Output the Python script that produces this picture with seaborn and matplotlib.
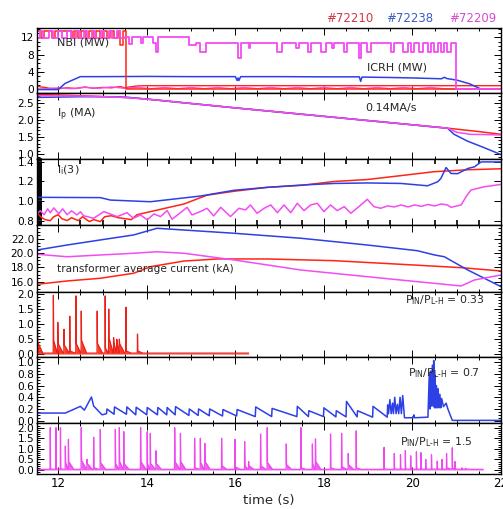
import numpy as np
import matplotlib
matplotlib.use("Agg")
import matplotlib.pyplot as plt
from matplotlib.ticker import MultipleLocator, FormatStrFormatter
import seaborn as sns

sns.set_theme(style="ticks")
plt.rcParams["font.family"] = ["DejaVu Sans"]

RED = "#ff2414"
BLUE = "#2c40e6"
MAG = "#f24cf2"

shots = ["#72210", "#72238", "#72209"]
shot_colors = ["#d23845", "#3a5ac8", "#d64ccc"]

# ---------------- panel 1: NBI / ICRH (MW) ----------------
nbi_red_t = [11.52, 11.60, 11.68, 11.86, 11.92, 12.10, 12.30, 12.36, 12.44, 12.52, 12.62, 12.70,
             12.78, 12.86, 12.94, 13.02, 13.10, 13.18, 13.26, 13.34, 13.40, 13.46, 13.52, 22.0]
nbi_red_v = [13.6, 11.9, 13.6, 11.9, 13.6, 13.6, 11.9, 13.6, 11.9, 13.6, 11.9, 13.6,
             11.9, 13.6, 11.9, 13.6, 11.9, 13.6, 11.9, 13.6, 10.2, 13.6, 0.0, 0.0]

nbi_mag_t = [11.52, 11.58, 11.66, 11.80, 11.88, 12.00, 12.08, 12.20, 12.28, 12.40, 12.48, 12.58,
             12.66, 12.76, 12.84, 12.96, 13.04, 13.14, 13.22, 13.32, 13.40, 13.50, 13.60, 13.66,
             13.86, 13.92, 14.14, 14.20, 14.25, 14.95, 15.10, 15.21, 15.33, 16.06, 16.12, 16.30,
             16.34, 16.95, 17.06, 17.36, 17.44, 17.63, 17.70, 17.93, 18.04, 18.19, 18.23, 18.46,
             18.53, 18.80, 18.84, 18.98, 19.06, 19.51, 19.59, 19.78, 19.89, 19.96, 20.04, 20.15,
             20.23, 20.34, 20.42, 20.49, 20.57, 20.64, 20.72, 20.79, 20.87, 20.98, 22.0]
nbi_mag_v = [11.9, 13.6, 11.9, 13.6, 11.9, 13.6, 11.9, 13.6, 11.9, 13.6, 11.9, 13.6,
             11.9, 13.6, 11.9, 13.6, 11.9, 13.6, 11.9, 13.6, 11.9, 12.2, 10.4, 12.2,
             10.6, 12.2, 10.6, 8.7, 12.2, 10.2, 10.6, 8.7, 10.6, 7.3, 10.6, 9.5,
             10.6, 8.7, 10.6, 9.5, 10.6, 8.7, 10.6, 8.7, 10.6, 9.5, 10.6, 8.7,
             10.6, 7.3, 10.6, 8.7, 10.6, 8.7, 10.6, 8.7, 10.6, 8.7, 10.6, 8.7,
             10.6, 8.7, 10.6, 8.7, 10.6, 8.7, 10.6, 8.7, 10.6, 0.0, 0.0]

icrh_blue_t = [11.52, 12.0, 12.15, 12.3, 12.5, 13.0, 14.0, 15.0, 16.0, 16.04, 16.06, 16.08, 16.12,
               17.0, 18.0, 18.8, 18.83, 18.86, 19.5, 20.0, 20.5, 20.65, 20.72, 20.78, 21.0, 21.3,
               21.55, 22.0]
icrh_blue_v = [-0.1, -0.1, 1.3, 2.0, 2.9, 2.9, 2.95, 2.9, 2.9, 2.0, 2.6, 2.0, 2.9,
               2.9, 2.85, 2.85, 1.8, 2.8, 2.7, 2.6, 2.45, 2.4, 2.75, 2.45, 2.1, 1.2,
               0.0, 0.0]

icrh_red_t = [11.52, 11.6, 11.7, 11.8, 12.0, 12.2, 12.4, 12.6, 12.8, 13.0, 13.2, 13.4, 13.5,
              13.6, 13.8, 14.0, 22.0]
icrh_red_v = [0.8, 0.5, 0.4, 0.2, 0.1, 0.3, 0.15, 0.5, 0.2, 0.4, 0.3, 0.6, 0.3,
              0.5, 0.75, 0.8, 0.8]

icrh_mag_t = [11.52, 11.8, 12.0, 12.3, 12.6, 12.9, 13.2, 13.5, 13.8, 14.1, 14.4, 14.7, 15.0,
              15.3, 15.6, 15.9, 16.2, 16.5, 16.8, 17.1, 17.4, 17.7, 18.0, 18.3, 18.6, 18.9,
              19.2, 19.5, 19.8, 20.1, 20.4, 20.7, 20.9, 22.0]
icrh_mag_v = [0.0, 0.1, 0.3, 0.1, 0.4, 0.2, 0.5, 0.2, 0.4, 0.1, 0.4, 0.1, 0.4,
              0.1, 0.4, 0.1, 0.4, 0.1, 0.4, 0.1, 0.4, 0.1, 0.4, 0.1, 0.4, 0.1,
              0.4, 0.1, 0.4, 0.1, 0.4, 0.1, 0.0, 0.0]

# ---------------- panel 2: Ip (MA) ----------------
ip_red_t = [11.52, 12.5, 13.3, 13.6, 14.0, 16.0, 18.0, 20.0, 20.8, 21.5, 22.0]
ip_red_v = [2.76, 2.72, 2.68, 2.66, 2.62, 2.36, 2.11, 1.86, 1.76, 1.66, 1.58]
ip_blue_t = [11.52, 12.5, 13.3, 13.6, 14.0, 16.0, 18.0, 20.0, 20.79, 20.94, 21.24, 21.61, 22.0]
ip_blue_v = [2.67, 2.69, 2.69, 2.67, 2.62, 2.36, 2.11, 1.86, 1.76, 1.58, 1.38, 1.19, 0.98]
ip_mag_t = [11.52, 12.5, 13.3, 13.6, 14.0, 16.0, 18.0, 20.0, 20.8, 21.0, 21.3, 22.0]
ip_mag_v = [2.72, 2.71, 2.68, 2.66, 2.62, 2.36, 2.11, 1.86, 1.76, 1.64, 1.58, 1.56]

# ---------------- panel 3: li(3) ----------------
li_red_t = [11.52, 11.6, 11.7, 11.82, 11.9, 12.0, 12.08, 12.2, 12.3, 12.45, 12.55, 12.7, 12.8,
            12.95, 13.05, 13.2, 13.35, 13.5, 13.65, 13.78, 14.16, 14.84, 15.36, 15.97, 16.72,
            17.48, 18.23, 18.98, 19.74, 20.49, 21.25, 22.0]
li_red_v = [0.88, 0.84, 0.81, 0.80, 0.84, 0.86, 0.82, 0.80, 0.83, 0.80, 0.84, 0.79, 0.81,
            0.79, 0.84, 0.85, 0.83, 0.82, 0.81, 0.86, 0.90, 0.97, 1.06, 1.10, 1.14,
            1.16, 1.20, 1.22, 1.26, 1.30, 1.32, 1.33]
li_blue_t = [11.52, 12.95, 13.18, 14.08, 15.21, 15.97, 16.72, 17.48, 18.23, 18.98, 19.74,
             20.34, 20.57, 20.64, 20.76, 20.87, 21.02, 21.25, 21.4, 21.55, 22.0]
li_blue_v = [1.038, 1.035, 1.01, 0.993, 1.051, 1.11, 1.14, 1.163, 1.18, 1.185, 1.18,
             1.156, 1.197, 1.23, 1.343, 1.282, 1.28, 1.333, 1.35, 1.40, 1.40]
li_mag_t = [11.52, 11.6, 11.68, 11.76, 11.82, 11.9, 12.01, 12.1, 12.2, 12.3, 12.42, 12.5, 12.57,
            12.8, 13.03, 13.33, 13.55, 13.7, 13.86, 14.01, 14.16, 14.31, 14.46, 14.57, 14.76,
            14.91, 15.02, 15.21, 15.36, 15.51, 15.67, 15.89, 16.08, 16.23, 16.34, 16.49, 16.65,
            16.8, 16.95, 17.1, 17.25, 17.4, 17.55, 17.7, 17.85, 18.0, 18.15, 18.3, 18.46, 18.61,
            18.79, 18.98, 19.13, 19.28, 19.44, 19.59, 19.74, 19.9, 20.05, 20.2, 20.35, 20.5,
            20.65, 20.79, 20.87, 21.1, 21.21, 21.32, 21.62, 22.0]
li_mag_v = [0.875, 0.90, 0.86, 0.92, 0.88, 0.93, 0.87, 0.92, 0.86, 0.90, 0.858, 0.89, 0.85,
            0.824, 0.892, 0.841, 0.881, 0.824, 0.858, 0.807, 0.868, 0.841, 0.902, 0.814, 0.881,
            0.936, 0.858, 0.892, 0.926, 0.848, 0.936, 0.841, 0.926, 0.909, 0.96, 0.875, 0.926,
            0.96, 0.881, 0.96, 0.881, 0.977, 0.902, 0.96, 0.977, 0.892, 0.96, 0.902, 0.943, 0.875,
            0.943, 1.018, 0.943, 0.926, 0.95, 0.94, 0.96, 0.94, 0.96, 0.945, 0.965, 0.95,
            0.97, 0.96, 0.936, 0.96, 1.044, 1.112, 1.146, 1.17]

# ---------------- panel 4: transformer average current (kA) ----------------
tr_blue_t = [11.52, 12.2, 12.95, 13.7, 14.23, 15.97, 17.48, 18.98, 20.11, 20.5, 20.72, 21.25, 22.0]
tr_blue_v = [20.45, 21.15, 21.86, 22.56, 23.5, 22.8, 22.1, 21.15, 20.35, 19.75, 19.5, 17.64, 15.3]
tr_mag_t = [11.52, 12.2, 12.95, 13.7, 14.23, 14.84, 15.97, 17.48, 18.98, 20.11, 21.1, 21.4, 22.0]
tr_mag_v = [19.85, 19.5, 19.75, 19.99, 20.2, 19.99, 19.05, 17.64, 16.7, 16.0, 15.4, 16.24, 16.94]
tr_red_t = [11.52, 12.2, 12.95, 13.7, 14.08, 14.84, 15.6, 16.72, 18.23, 19.74, 21.1, 22.0]
tr_red_v = [15.63, 16.1, 16.48, 17.18, 18.1, 18.9, 19.19, 19.19, 18.95, 18.44, 17.97, 17.5]

# ---------------- panel 5: red ELM signal (P_IN/P_L-H = 0.33) ----------------
elm_red_time = [11.53, 11.89, 11.99, 12.13, 12.26, 12.40, 12.52, 12.88, 13.06, 13.14, 13.25,
                13.32, 13.38, 13.53, 13.79]
elm_red_peak = [0.80, 1.97, 1.06, 0.83, 1.27, 1.95, 1.44, 1.44, 1.95, 1.51, 0.55,
                0.50, 0.50, 1.57, 0.67]
elm_red_shoulder = [0.40, 0.45, 0.35, 0.30, 0.10, 0.35, 0.45, 0.35, 0.20, 0.55, 0.40,
                    0.45, 0.35, 0.10, 0.10]
elm_red_span = (11.52, 16.3)
elm_red_base = 0.03

# ---------------- panel 6: blue ELM signal (P_IN/P_L-H = 0.7) ----------------
elm_blue_t = [11.52, 12.16, 12.50, 12.59, 12.75, 12.80, 12.99,
              13.09, 13.10, 13.26, 13.27, 13.54, 13.55, 13.75, 13.76, 14.00, 14.01,
              14.24, 14.25, 14.45, 14.46, 14.64, 14.65, 14.95, 14.96, 15.16, 15.17,
              15.41, 15.42, 15.71, 15.72, 16.03, 16.04, 16.45, 16.46, 16.82, 16.83,
              17.39, 17.40, 17.65, 17.66, 17.99, 18.00, 18.27, 18.28, 18.50, 18.51,
              18.75, 18.76, 19.10, 19.11, 19.43, 19.44, 19.46, 19.49, 19.52, 19.55,
              19.57, 19.60, 19.63, 19.66, 19.69, 19.72, 19.75, 19.78, 19.82, 20.02,
              20.03, 20.05, 20.35, 20.38, 20.40, 20.41, 20.43, 20.45, 20.47, 20.48,
              20.50, 20.51, 20.53, 20.54, 20.56, 20.58, 20.60, 20.62, 20.64, 20.66,
              20.70, 20.76, 20.80, 20.90, 22.0]
elm_blue_v = [0.13, 0.13, 0.245, 0.18, 0.405, 0.25, 0.10,
              0.12, 0.20, 0.11, 0.235, 0.11, 0.235, 0.10, 0.23, 0.10, 0.225,
              0.10, 0.225, 0.10, 0.225, 0.10, 0.24, 0.09, 0.20, 0.09, 0.20,
              0.085, 0.20, 0.08, 0.19, 0.08, 0.19, 0.07, 0.235, 0.07, 0.21,
              0.07, 0.245, 0.07, 0.17, 0.07, 0.22, 0.065, 0.17, 0.065, 0.33,
              0.065, 0.17, 0.06, 0.245, 0.06, 0.27, 0.12, 0.36, 0.12, 0.30,
              0.12, 0.40, 0.12, 0.28, 0.12, 0.40, 0.12, 0.43, 0.05, 0.05,
              0.10, 0.05, 0.06, 0.80, 0.20, 0.85, 0.25, 0.95, 0.25, 1.03,
              0.22, 0.78, 0.22, 0.60, 0.22, 0.55, 0.22, 0.45, 0.22, 0.38,
              0.24, 0.30, 0.20, 0.005, 0.005]

# ---------------- panel 7: magenta ELM signal (P_IN/P_L-H = 1.5) ----------------
elm_mag_time = [11.82, 11.95, 12.05, 12.16, 12.23, 12.52, 12.65, 12.80, 12.95, 13.29, 13.38,
                13.48, 13.86, 14.01, 14.08, 14.21, 14.63, 14.76, 15.08, 15.21, 15.31, 15.69,
                15.99, 16.21, 16.30, 16.57, 16.72, 17.15, 17.48, 17.74, 17.81, 18.15, 18.40,
                18.55, 18.73, 19.36, 19.59, 19.73, 19.84, 19.96, 20.09, 20.19, 20.30, 20.43,
                20.56, 20.67, 20.77, 20.90, 20.96, 21.12, 21.20]
elm_mag_peak = [2.0, 2.0, 2.0, 1.13, 1.45, 2.0, 0.50, 1.55, 1.92, 1.92, 2.0,
                1.81, 2.0, 1.81, 1.73, 0.91, 2.0, 1.73, 1.50, 1.50, 1.26, 1.50,
                1.45, 1.34, 0.40, 1.70, 2.0, 1.23, 2.0, 1.23, 1.47, 1.70, 1.73,
                0.78, 1.85, 1.07, 0.78, 0.72, 0.92, 0.67, 0.86, 0.82, 0.50, 0.72,
                0.42, 0.50, 0.78, 1.05, 0.40, 0.10, 0.08]
elm_mag_shoulder = [0.05, 0.05, 0.05, 0.35, 0.40, 0.45, 0.30, 0.10, 0.35, 0.30, 0.40,
                    0.30, 0.40, 0.30, 0.30, 0.30, 0.40, 0.40, 0.10, 0.35, 0.40, 0.20,
                    0.15, 0.20, 0.20, 0.20, 0.35, 0.25, 0.10, 0.30, 0.40, 0.10, 0.15,
                    0.25, 0.10, 0.05, 0.05, 0.05, 0.05, 0.05, 0.05, 0.05, 0.05, 0.05,
                    0.05, 0.05, 0.10, 0.10, 0.05, 0.05, 0.05]
elm_mag_span = (11.52, 21.6)
elm_mag_base = 0.03

ratio_labels = ["0.33", "0.7", "1.5"]
x_ticks = [12, 14, 16, 18, 20, 22]


def spike_trace(times, peaks, shoulders, base, span, dur=0.12):
    ts = [span[0]]
    vs = [base]
    n = len(times)
    for i in range(n):
        t = times[i]
        nxt = times[i + 1] if i + 1 < n else span[1]
        d = min(dur, max(nxt - t - 0.012, 0.015))
        ts += [t - 0.004, t, t + 0.006, t + d]
        vs += [base, peaks[i], shoulders[i], base]
    ts.append(span[1])
    vs.append(base)
    return np.array(ts), np.array(vs)


# ---------------- figure ----------------
W, H = 503, 509
fig = plt.figure(figsize=(W / 100, H / 100), dpi=100)
fig.patch.set_facecolor("white")
tops = [28, 93, 159, 225, 292, 357, 423]
bots = [93, 159, 225, 292, 357, 423, 474]
left_px, right_px = 37, 501
axes = []
for tp, bt in zip(tops, bots):
    ax = fig.add_axes([left_px / W, 1 - bt / H, (right_px - left_px) / W, (bt - tp) / H])
    axes.append(ax)

def line(ax, t, v, color, lw=1.1, **kw):
    sns.lineplot(x=np.asarray(t), y=np.asarray(v), ax=ax, color=color, lw=lw,
                 estimator=None, sort=False, legend=False, **kw)

ax1, ax2, ax3, ax4, ax5, ax6, ax7 = axes

# panel 1
line(ax1, icrh_red_t, icrh_red_v, RED, lw=1.0)
line(ax1, icrh_mag_t, icrh_mag_v, MAG, lw=1.0)
line(ax1, icrh_blue_t, icrh_blue_v, BLUE, lw=1.1)
line(ax1, nbi_red_t, nbi_red_v, RED, lw=1.1, drawstyle="steps-post")
line(ax1, nbi_mag_t, nbi_mag_v, MAG, lw=1.3, drawstyle="steps-post")
ax1.set_ylim(-0.9, 14.2)
ax1.yaxis.set_major_locator(MultipleLocator(4))
ax1.yaxis.set_minor_locator(MultipleLocator(1))
ax1.yaxis.set_major_formatter(FormatStrFormatter("%d"))
ax1.text(0.043, 0.77, "NBI (MW)", transform=ax1.transAxes, va="center", fontsize=8)
ax1.text(0.711, 0.385, "ICRH (MW)", transform=ax1.transAxes, va="center", fontsize=8)

# panel 2
line(ax2, ip_red_t, ip_red_v, RED, lw=1.1)
line(ax2, ip_blue_t, ip_blue_v, BLUE, lw=1.1)
line(ax2, ip_mag_t, ip_mag_v, MAG, lw=1.1)
ax2.set_ylim(0.85, 2.8)
ax2.yaxis.set_major_locator(MultipleLocator(0.5))
ax2.yaxis.set_minor_locator(MultipleLocator(0.1))
ax2.yaxis.set_major_formatter(FormatStrFormatter("%.1f"))
ax2.text(0.043, 0.667, r"I$_\mathregular{p}$ (MA)", transform=ax2.transAxes, va="center", fontsize=8)
ax2.text(0.707, 0.773, "0.14MA/s", transform=ax2.transAxes, va="center", fontsize=8)

# panel 3
line(ax3, li_red_t, li_red_v, RED, lw=1.1)
line(ax3, li_blue_t, li_blue_v, BLUE, lw=1.1)
line(ax3, li_mag_t, li_mag_v, MAG, lw=1.1)
ax3.set_ylim(0.755, 1.43)
ax3.yaxis.set_major_locator(MultipleLocator(0.2))
ax3.yaxis.set_minor_locator(MultipleLocator(0.01))
ax3.yaxis.set_major_formatter(FormatStrFormatter("%.1f"))
ax3.text(0.043, 0.833, r"l$_\mathregular{i}$(3)", transform=ax3.transAxes, va="center", fontsize=8)

# panel 4
line(ax4, tr_red_t, tr_red_v, RED, lw=1.1)
line(ax4, tr_blue_t, tr_blue_v, BLUE, lw=1.1)
line(ax4, tr_mag_t, tr_mag_v, MAG, lw=1.1)
ax4.set_ylim(14.55, 23.96)
ax4.yaxis.set_major_locator(MultipleLocator(2))
ax4.yaxis.set_minor_locator(MultipleLocator(0.5))
ax4.yaxis.set_major_formatter(FormatStrFormatter("%.1f"))
ax4.text(0.043, 0.343, "transformer average current (kA)", transform=ax4.transAxes,
         va="center", fontsize=7.6)

# panel 5
rt, rv = spike_trace(elm_red_time, elm_red_peak, elm_red_shoulder, elm_red_base, elm_red_span)
ax5.fill_between(rt, 0, rv, color=RED, lw=0, alpha=0.9)
line(ax5, rt, rv, "#e8231a", lw=0.9)
ax5.set_ylim(-0.1, 2.08)
ax5.yaxis.set_major_locator(MultipleLocator(0.5))
ax5.yaxis.set_minor_locator(MultipleLocator(0.1))
ax5.yaxis.set_major_formatter(FormatStrFormatter("%.1f"))

# panel 6
line(ax6, elm_blue_t, elm_blue_v, BLUE, lw=1.1)
ax6.set_ylim(-0.04, 1.09)
ax6.yaxis.set_major_locator(MultipleLocator(0.2))
ax6.yaxis.set_minor_locator(MultipleLocator(0.05))
ax6.yaxis.set_major_formatter(FormatStrFormatter("%.1f"))

# panel 7
mt, mv = spike_trace(elm_mag_time, elm_mag_peak, elm_mag_shoulder, elm_mag_base, elm_mag_span)
ax7.fill_between(mt, 0, mv, color=MAG, lw=0, alpha=0.9)
line(ax7, mt, mv, "#ee48ee", lw=0.9)
ax7.set_ylim(-0.19, 2.22)
ax7.yaxis.set_major_locator(MultipleLocator(0.5))
ax7.yaxis.set_minor_locator(MultipleLocator(0.1))
ax7.yaxis.set_major_formatter(FormatStrFormatter("%.1f"))

ratio_pos = [(ax5, 0.793, 0.877), (ax6, 0.80, 0.758), (ax7, 0.782, 0.633)]
for (ax, x, y), r in zip(ratio_pos, ratio_labels):
    ax.text(x, y, "P$_\\mathregular{IN}$/P$_\\mathregular{L\u2010H}$ = " + r, transform=ax.transAxes,
            va="center", fontsize=7.8)

for i, ax in enumerate(axes):
    ax.set_xlim(11.52, 22.0)
    ax.set_xticks(x_ticks)
    ax.xaxis.set_minor_locator(MultipleLocator(0.5))
    ax.set_xlabel("")
    ax.set_ylabel("")
    ax.set_facecolor("white")
    for sp in ax.spines.values():
        sp.set_visible(True)
        sp.set_color("black")
        sp.set_linewidth(1.0)
    ax.tick_params(which="both", direction="in", top=True, right=True, bottom=True, left=True,
                   colors="black", width=0.7, labelsize=7.6, pad=2)
    ax.tick_params(which="major", length=5)
    ax.tick_params(which="minor", length=2.5)
    if i < 6:
        ax.tick_params(labelbottom=False)
    else:
        ax.set_xticklabels([str(v) for v in x_ticks])
        ax.tick_params(axis="x", labelsize=8.5)
ax3.tick_params(which="minor", right=False, length=3.5, width=1.2)

ax7.set_xlabel("time (s)", fontsize=9.5, labelpad=3)

for s, c, x in zip(shots, shot_colors, [0.696, 0.815, 0.94]):
    fig.text(x, 1 - 18 / H, s, color=c, fontsize=8.5, ha="center", va="center")

fig.savefig("out.png", dpi=100)
